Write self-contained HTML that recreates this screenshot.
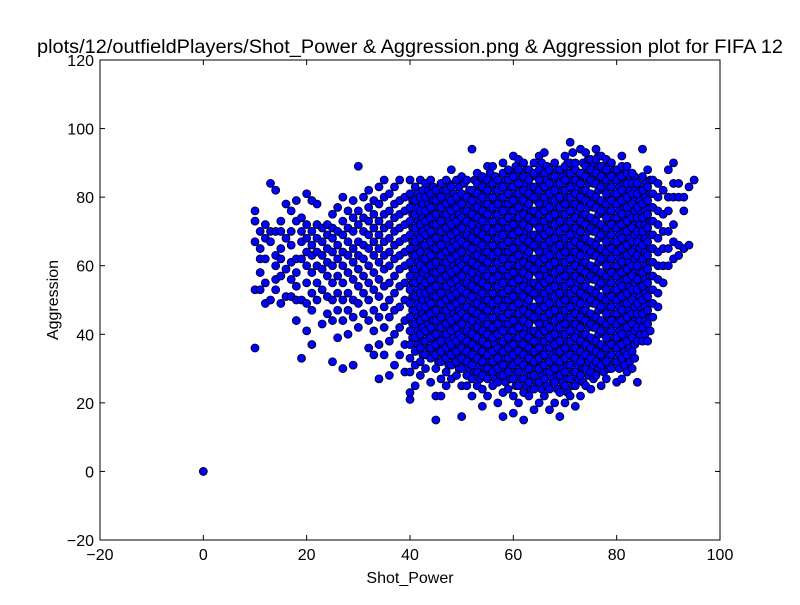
<!DOCTYPE html>
<html><head><meta charset="utf-8"><style>
body{margin:0;background:#fff;width:800px;height:600px;overflow:hidden}
text{font-family:"Liberation Sans",sans-serif;fill:#000}
</style></head><body>
<svg id="chart" width="800" height="600" xmlns="http://www.w3.org/2000/svg">
<rect width="800" height="600" fill="#fff"/>
<text x="410" y="53" font-size="19.5" text-anchor="middle" textLength="746" lengthAdjust="spacingAndGlyphs">plots/12/outfieldPlayers/Shot_Power &amp; Aggression.png &amp; Aggression plot for FIFA 12</text>
<g id="points"></g>
<g id="axes"></g>
<text x="410" y="583" font-size="16" text-anchor="middle">Shot_Power</text>
<text x="58" y="300" font-size="16" text-anchor="middle" transform="rotate(-90 58 300)">Aggression</text>
</svg>
<script>
const xTicks=[-20,0,20,40,60,80,100];
const yTicks=[-20,0,20,40,60,80,100,120];
const shotPower=[0,10,11,12,13,14,15,16,17,18,19,20,21,22,23,24,25,26,27,28,29,30,31,32,33,34,35,36,37,38,39,40,41,42,43,44,45,46,47,48,49,50,51,52,53,54,55,56,57,58,59,60,61,62,63,64,65,66,67,68,69,70,71,72,73,74,75,76,77,78,79,80,81,82,83,84,85,86,87,88,89,90,91,92,93,94,95];
const aggression=[
[0],[36,53,67,73,76],[53,58,62,65,70],[49,55,62,68,72],[50,67,70,84],[53,56,60,63,70,82],[49,57,62,65,70,73],[51,59,68,78],[51,56,61,66,70,76],[44,50,54,58,62,73,79],[33,50,62,67,70,74],
[41,49,55,60,64,68,72,81],[37,47,52,58,63,66,70,79],[50,55,60,64,68,72,78],[43,53,59,63,67,71],[46,51,57,61,65,69,72],[32,44,50,55,60,64,68,71,75],[39,47,52,57,62,66,70,77],[30,44,50,55,60,64,69,73,80],[40,47,52,58,63,67,71,76],[31,45,50,56,61,65,70,74,79],
[42,49,54,59,63,67,72,76,89],[46,52,57,62,66,70,74,80],[36,44,50,55,60,65,69,73,77,82],[34,41,47,53,58,63,67,71,75,79],[27,37,45,51,56,61,65,69,73,78,83],[34,42,48,54,59,63,67,71,75,80,85],[28,38,45,50,55,60,64,68,72,76,81],[31,40,47,52,57,62,66,70,74,78,83],[34,42,48,54,59,63,67,71,75,79,85],[29,37,44,50,55,60,64,68,72,76,80],
[21,23,29,33,37,41,45,49,53,57,61,65,69,73,77,81,85],
[25,31,35,39,43,47,51,55,59,63,67,71,75,79,83],
[28,32,36,40,44,48,52,56,60,64,68,72,76,80,85],
[30,34,38,41,45,48,52,55,59,62,66,69,73,76,80,84],
[26,33,36,39,42,46,49,53,56,60,63,67,70,74,77,81,85],
[15,22,30,34,37,40,44,47,51,54,58,61,65,68,72,75,79,82],
[22,27,32,35,38,42,45,49,52,56,59,63,66,70,73,77,80,84],
[25,29,33,36,40,43,47,50,54,57,61,64,68,71,75,78,82,85],
[27,31,34,37,41,44,48,51,55,58,62,65,69,72,76,79,83,88],
[28,32,35,38,42,45,49,52,56,59,63,66,70,73,77,80,85],
[16,25,30,33,36,39,43,46,50,53,57,60,64,67,71,74,78,81,86],
[25,28,32,35,38,41,45,48,52,55,59,62,66,69,73,76,80,85],
[22,27,31,34,37,40,44,47,51,54,58,61,65,68,72,75,79,82,94],
[25,29,33,36,39,42,46,49,53,56,60,63,67,70,74,77,81,84,87],
[19,24,28,32,35,38,41,45,48,52,55,59,62,66,69,73,76,80,83,86],
[22,27,30,34,37,40,43,47,50,54,57,61,64,68,71,75,78,82,85,89],
[25,29,32,35,39,42,45,49,52,56,59,63,66,70,73,77,80,84,89],
[20,26,30,33,36,40,43,47,50,54,57,61,64,68,71,75,78,82,85],
[16,23,28,31,35,38,41,45,48,52,55,59,62,66,69,73,76,80,83,87,90],
[24,29,33,36,39,43,46,50,53,57,60,64,67,71,74,78,81,85,88],
[17,22,27,31,34,37,41,44,48,51,55,58,62,65,69,72,76,79,83,86,92],
[20,25,29,32,35,39,42,46,49,53,56,60,63,67,70,74,77,81,84,88,91],
[15,23,27,31,34,37,40,44,47,51,54,58,61,65,68,72,75,79,82,86,90],
[22,26,30,33,36,39,43,46,50,53,57,60,64,67,71,74,78,81,85,88],
[18,24,28,32,35,38,41,45,48,52,55,59,62,66,69,73,76,80,83,87,90],
[20,26,30,33,36,40,43,47,50,54,57,61,64,68,71,75,78,82,85,88,92],
[22,27,31,34,38,41,45,48,52,55,59,62,66,69,73,76,80,83,87,93],
[18,24,29,32,36,39,42,46,49,53,56,60,63,67,70,74,77,81,84,88],
[20,26,30,33,37,40,44,47,51,54,58,61,65,68,72,75,79,82,86,90],
[16,23,28,32,35,38,42,45,49,52,56,59,63,66,70,73,77,80,84,88],
[20,25,29,33,36,40,43,47,50,54,57,61,64,68,71,75,78,82,85,89,92],
[22,27,31,34,38,41,45,48,52,55,59,62,66,69,73,76,80,83,87,90,96],
[19,25,29,33,36,39,43,46,50,53,57,60,64,67,71,74,78,81,85,88,90],
[22,28,32,35,38,42,45,49,52,56,59,63,66,70,73,77,80,84,87,94],
[25,30,34,37,40,44,47,51,54,58,61,65,68,72,75,79,82,86,89,93],
[24,29,33,36,39,43,46,50,53,57,60,64,67,71,74,78,81,85,88,91],
[28,32,35,38,42,45,49,52,56,59,63,66,70,73,77,80,84,87,91,94],
[25,31,34,37,41,44,48,51,55,58,62,65,69,72,76,79,83,86,89,92],
[27,32,36,39,43,46,50,53,57,60,64,67,71,74,78,81,85,88,91],
[30,34,37,41,44,48,51,55,58,62,65,69,72,76,79,83,86,90],
[26,32,36,39,43,46,50,53,57,60,64,67,71,74,78,81,85,88],
[27,33,37,40,44,47,51,54,58,61,65,68,72,75,79,82,86,89,92],
[29,34,38,42,45,49,52,56,59,63,66,70,73,77,80,84,87,89],
[30,35,39,43,46,50,53,57,60,64,67,71,74,78,81,84,87],
[26,38,42,46,49,53,56,60,63,67,70,74,77,81,84],
[38,42,46,50,54,58,62,66,70,74,78,82,86,94],
[38,43,47,51,55,59,63,67,71,75,79,83,88],
[45,49,53,57,61,65,69,73,77,81,85],
[48,52,56,60,64,68,72,76,80,84],
[55,60,65,70,75,82],[60,65,70,76,80,88],[62,67,72,80,84,90],[63,66,80,84],[65,76,80],[66,83],[85]
];
const shotPowerExtra=[40.5,41.5,42.5,43.5,44.5,45.5,46.5,47.5,48.5,49.5,50.5,51.5,52.5,53.5,54.5,55.5,56.5,57.5,58.5,59.5,60.5,61.5,62.5,63.5,64.5,65.5,66.5,67.5,68.5,69.5,70.5,71.5,72.5,73.5,74.5,75.5,76.5,77.5,78.5,79.5,80.5,81.5,82.5,83.5,84.5,85.5,86.5];
const aggressionExtra=[
[39,43,47,51,55,59,63,67,71,75,79],
[37,41,45,49,53,57,61,65,69,73,77,81],
[34,38,42,46,50,54,58,62,66,70,74,78,82],
[36,40,43,47,50,54,57,61,64,68,71,75,78,82],
[35,38,41,44,48,51,55,58,62,65,69,72,76,79,83],
[32,36,39,42,46,49,53,56,60,63,67,70,74,77,81],
[34,37,40,44,47,51,54,58,61,65,68,72,75,79,82],
[31,35,38,42,45,49,52,56,59,63,66,70,73,77,80,84],
[33,36,39,43,46,50,53,57,60,64,67,71,74,78,81],
[30,34,37,40,44,47,51,54,58,61,65,68,72,75,79,83],
[32,35,38,41,45,48,52,55,59,62,66,69,73,76,80,84],
[30,34,37,40,43,47,50,54,57,61,64,68,71,75,78,82],
[29,33,36,39,42,46,49,53,56,60,63,67,70,74,77,81,85],
[27,31,34,38,41,44,48,51,55,58,62,65,69,72,76,79,83],
[30,33,37,40,43,47,50,54,57,61,64,68,71,75,78,82,85],
[29,32,36,39,42,45,49,52,56,59,63,66,70,73,77,80,84,87],
[27,31,34,37,41,44,47,51,54,58,61,65,68,72,75,79,82,86],
[28,32,35,38,42,45,49,52,56,59,63,66,70,73,77,80,84],
[26,30,33,37,40,43,47,50,54,57,61,64,68,71,75,78,82,85],
[27,31,35,38,41,45,48,52,55,59,62,66,69,73,76,80,83,87],
[25,29,32,36,39,42,46,49,53,56,60,63,67,70,74,77,81,85,89],
[27,31,34,37,41,44,48,51,55,58,62,65,69,72,76,79,83,86],
[25,29,32,36,39,42,46,49,53,56,60,63,67,70,74,77,81,84,88],
[24,28,31,35,38,41,45,48,52,55,59,62,66,69,73,76,80,83,86],
[26,30,34,37,40,44,47,51,54,58,61,65,68,72,75,79,82,86],
[24,28,31,35,38,42,45,49,52,56,59,63,66,70,73,77,80,84,87,90],
[25,29,33,36,40,43,47,50,54,57,61,64,68,71,75,78,82,85,89],
[27,31,34,38,41,44,48,51,55,58,62,65,69,72,76,79,83,86],
[24,28,32,35,39,42,46,49,53,56,60,63,67,70,74,77,81,84,88],
[26,30,34,37,40,44,47,51,54,58,61,65,68,72,75,79,82,86],
[23,27,31,35,38,42,45,49,52,56,59,63,66,70,73,77,80,84,87,90],
[25,29,33,36,40,43,47,50,54,57,61,64,68,71,75,78,82,85,89,93],
[27,31,34,38,41,45,48,52,55,59,62,66,69,73,76,80,83,87],
[26,30,33,37,40,44,47,51,54,58,61,65,68,72,75,79,82,86,90],
[28,32,35,39,42,46,49,53,56,60,63,67,70,74,77,81,84,88,91],
[27,31,35,38,42,45,49,52,56,59,63,66,70,73,77,80,84,87,90],
[30,33,37,40,44,47,51,54,58,61,65,68,72,75,79,82,86,89,92],
[29,33,36,40,43,47,50,54,57,61,64,68,71,75,78,82,85,88],
[30,34,38,41,45,48,52,55,59,62,66,69,73,76,80,83,87,90],
[32,36,39,43,46,50,53,57,60,64,67,71,74,78,81,85,88],
[30,34,38,41,45,48,52,55,59,62,66,69,73,76,80,83,87],
[31,35,39,42,46,49,53,56,60,63,67,70,74,77,81,84,88],
[32,36,40,44,47,51,54,58,61,65,68,72,75,79,82,86],
[33,37,41,44,48,51,55,58,62,65,69,72,76,79,83,86],
[40,44,48,51,55,58,62,65,69,72,76,79,82],
[40,44,48,52,56,60,64,68,72,76,80,84],
[41,45,49,53,57,61,65,69,73,77,81,85]
];
const L=100,R=720,T=60,B=540,xMin=-20,xMax=100,yMin=-20,yMax=120;
const NS="http://www.w3.org/2000/svg";
function xs(v){return L+(v-xMin)/(xMax-xMin)*(R-L);}
function ys(v){return B-(v-yMin)/(yMax-yMin)*(B-T);}
const pg=document.getElementById('points');
function drawSet(xArr,yArr){
  xArr.forEach((x,i)=>{
    yArr[i].forEach(y=>{
      const c=document.createElementNS(NS,'circle');
      c.setAttribute('cx',xs(x));c.setAttribute('cy',ys(y));c.setAttribute('r',4);
      c.setAttribute('fill','#0000ff');c.setAttribute('stroke','#000');c.setAttribute('stroke-width','0.8');
      
      
      pg.appendChild(c);
    });
  });
}
drawSet(shotPowerExtra,aggressionExtra);
drawSet(shotPower,aggression);
const ax=document.getElementById('axes');
function add(tag,attrs,txt){const e=document.createElementNS(NS,tag);for(const k in attrs)e.setAttribute(k,attrs[k]);if(txt!==undefined)e.textContent=txt;ax.appendChild(e);return e;}
const fr=add('rect',{x:L,y:T,width:R-L,height:B-T,fill:'none',stroke:'#000','stroke-width':1});


xTicks.forEach(t=>{
  const x=xs(t);
  add('line',{x1:x,y1:B,x2:x,y2:B-5,stroke:'#000'});
  add('line',{x1:x,y1:T,x2:x,y2:T+5,stroke:'#000'});
  const lb=add('text',{x:x,y:B+20,'font-size':16,'text-anchor':'middle'},t<0?'\u2212'+(-t):String(t));
  
  
});
yTicks.forEach(t=>{
  const y=ys(t);
  add('line',{x1:L,y1:y,x2:L+5,y2:y,stroke:'#000'});
  add('line',{x1:R,y1:y,x2:R-5,y2:y,stroke:'#000'});
  const lb=add('text',{x:L-6,y:y+6,'font-size':16,'text-anchor':'end'},t<0?'\u2212'+(-t):String(t));
  
  
});
</script>
</body></html>
